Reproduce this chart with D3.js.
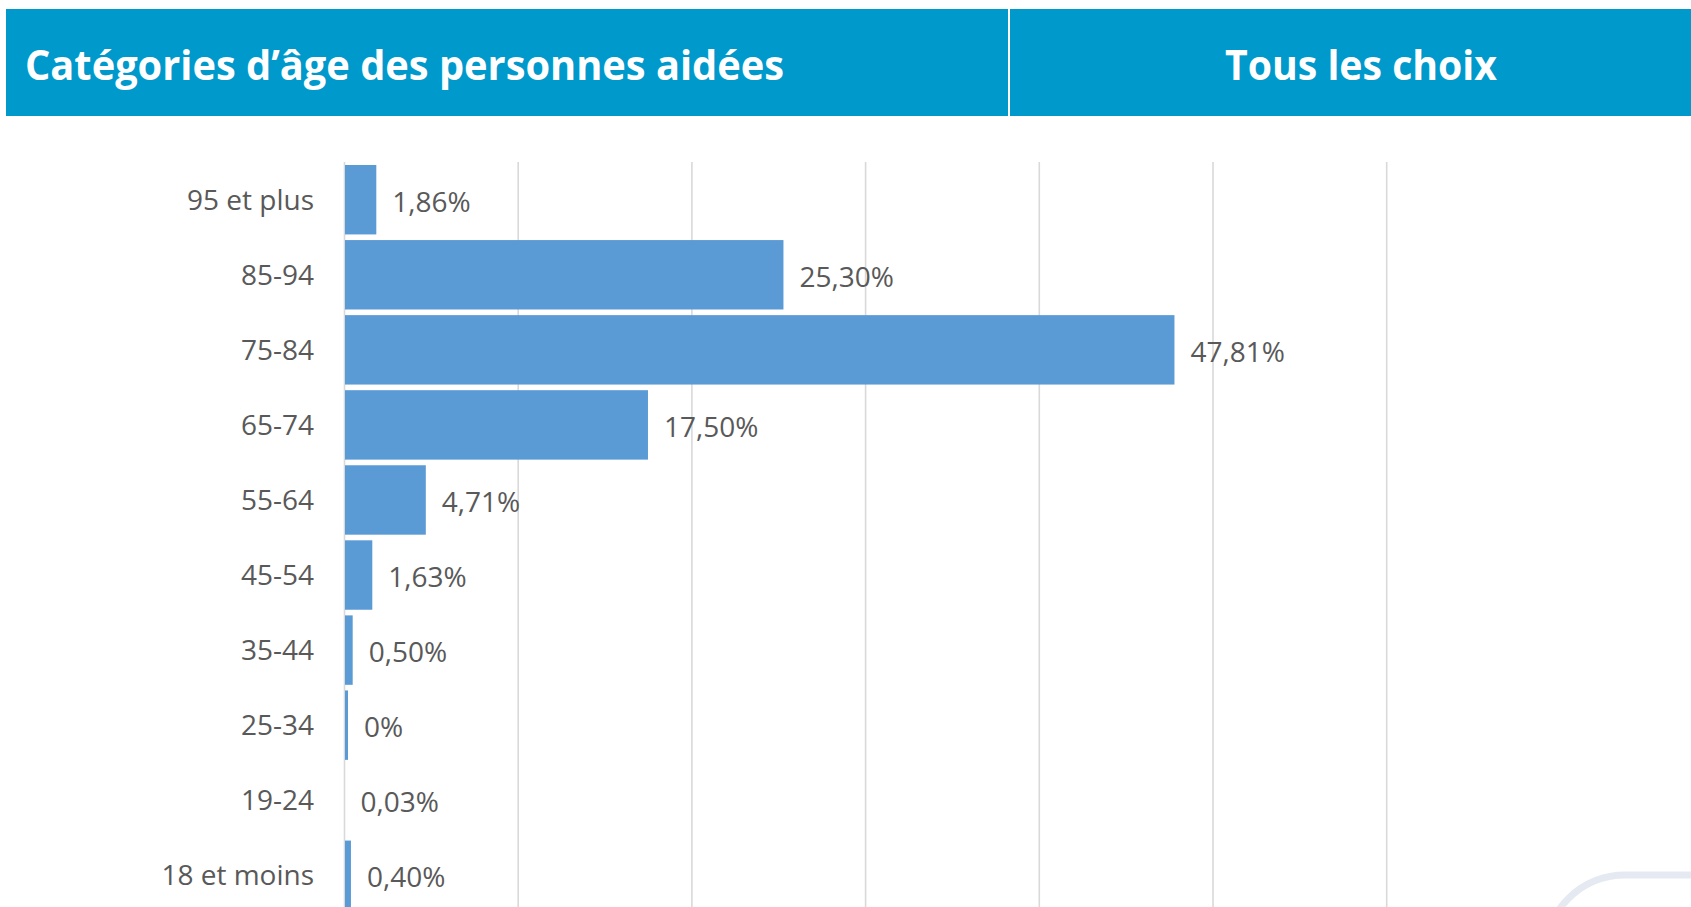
<!DOCTYPE html>
<html>
<head>
<meta charset="utf-8">
<script src="https://cdn.jsdelivr.net/npm/d3@7"></script>
<style>
  html, body { margin: 0; padding: 0; background: #fff; overflow: hidden; }
  svg { display: block; font-family: "Open Sans", "Noto Sans", sans-serif; }
</style>
</head>
<body>
<div id="chart"></div>
<script>
// chart data
var categories = ["95 et plus", "85-94", "75-84", "65-74", "55-64", "45-54", "35-44", "25-34", "19-24", "18 et moins"];
var values = [1.86, 25.30, 47.81, 17.50, 4.71, 1.63, 0.50, 0.23, 0.03, 0.40];
var valueLabels = ["1,86%", "25,30%", "47,81%", "17,50%", "4,71%", "1,63%", "0,50%", "0%", "0,03%", "0,40%"];
var gridTicks = [0, 10, 20, 30, 40, 50, 60];
var headerTitle = "Catégories d’âge des personnes aidées";
var headerRight = "Tous les choix";

var width = 1691, height = 907;
var margin = {top: 162, left: 344};

var svg = d3.select("#chart").append("svg")
  .attr("width", width)
  .attr("height", height);

// header band
svg.append("rect")
  .attr("x", 6).attr("y", 9)
  .attr("width", width - 6).attr("height", 107)
  .attr("fill", "#0099cc");
svg.append("line")
  .attr("x1", 1009).attr("x2", 1009)
  .attr("y1", 9).attr("y2", 116)
  .attr("stroke", "#fff").attr("stroke-width", 2);

svg.append("text")
  .attr("x", 25).attr("y", 80)
  .attr("fill", "#fff")
  .attr("font-size", 42).attr("font-weight", 700)
  .attr("textLength", 759).attr("lengthAdjust", "spacingAndGlyphs")
  .text(headerTitle);
svg.append("text")
  .attr("x", 1225).attr("y", 80)
  .attr("fill", "#fff")
  .attr("font-size", 42).attr("font-weight", 700)
  .attr("textLength", 272).attr("lengthAdjust", "spacingAndGlyphs")
  .text(headerRight);

// scales
var xScale = d3.scaleLinear()
  .domain([0, 60])
  .range([margin.left, margin.left + 60 * 17.37]);

var yScale = d3.scaleBand()
  .domain(categories)
  .range([margin.top, 913])
  .paddingInner(0.075)
  .paddingOuter(0.04);

// gridlines
var gridAxis = d3.axisTop(xScale)
  .tickValues(gridTicks)
  .tickSize(-(height - margin.top + 10))
  .tickFormat("");

svg.append("g")
  .attr("class", "grid")
  .attr("transform", `translate(0,${margin.top})`)
  .call(gridAxis)
  .call(g => g.select(".domain").remove())
  .call(g => g.selectAll("line").attr("stroke", "#d9d9d9").attr("stroke-width", 1.6));

// bars
svg.append("g")
  .selectAll("rect")
  .data(values)
  .enter()
  .append("rect")
  .attr("x", xScale(0) + 1)
  .attr("y", (d, i) => yScale(categories[i]))
  .attr("width", d => Math.max(0, xScale(d) - xScale(0) - 1))
  .attr("height", yScale.bandwidth())
  .attr("fill", "#5b9bd5");

// category labels
svg.append("g")
  .selectAll("text")
  .data(categories)
  .enter()
  .append("text")
  .attr("x", 314)
  .attr("y", d => yScale(d) + yScale.bandwidth() / 2)
  .attr("dy", "0.35em")
  .attr("text-anchor", "end")
  .attr("font-size", 28)
  .attr("fill", "#595959")
  .text(d => d);

// value labels
svg.append("g")
  .selectAll("text")
  .data(values)
  .enter()
  .append("text")
  .attr("x", d => xScale(d) + 16)
  .attr("y", (d, i) => yScale(categories[i]) + yScale.bandwidth() / 2 + 2)
  .attr("dy", "0.35em")
  .attr("font-size", 28)
  .attr("fill", "#595959")
  .text((d, i) => valueLabels[i]);

// decorative corner shape
svg.append("rect")
  .attr("x", 1545).attr("y", 875)
  .attr("width", 300).attr("height", 200)
  .attr("rx", 80)
  .attr("fill", "none")
  .attr("stroke", "#e4e9f2")
  .attr("stroke-width", 7);
</script>
</body>
</html>
